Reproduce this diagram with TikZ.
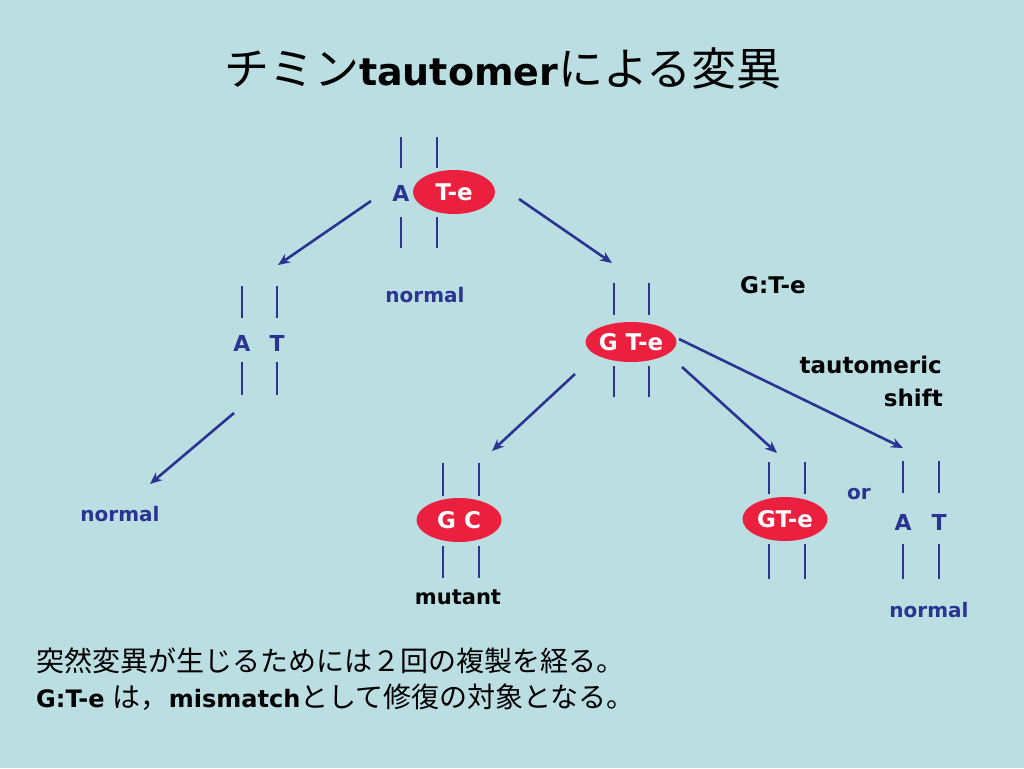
\documentclass[tikz,border=0pt]{standalone}
\usepackage{fontspec}
\setmainfont{DejaVu Sans}
\newfontfamily\jp{Noto Sans CJK JP}
\usetikzlibrary{arrows.meta,shapes.geometric}
\definecolor{bgcol}{RGB}{186,222,226}
\definecolor{navy}{RGB}{42,52,145}
\definecolor{pillred}{RGB}{234,32,62}
\begin{document}
\begin{tikzpicture}[x=1pt,y=-1pt,
  strand/.style={navy, line width=2.8pt},
  pill/.style={ellipse, fill=pillred, minimum width=85pt, minimum height=44pt, inner sep=0pt, text=white, font=\bfseries\fontsize{23}{25}\selectfont},
  basetxt/.style={text=navy, inner sep=0pt, font=\bfseries\fontsize{22}{24}\selectfont},
  bluelbl/.style={text=navy, inner sep=0pt, font=\bfseries\fontsize{20}{22}\selectfont},
  blacklbl/.style={text=black, inner sep=0pt, font=\bfseries\fontsize{23}{26}\selectfont},
  arr/.style={navy, line width=2.6pt, -{Stealth[length=12pt,width=10pt]}}]
\fill[bgcol] (0,0) rectangle (1024,768);
\useasboundingbox (0,0) rectangle (1024,768);

% title
\node[inner sep=0pt] (title) at (503,68) {\fontsize{45}{50}\selectfont{\jp チミン}{\bfseries\fontsize{38}{44}\selectfont tautomer}{\jp による変異}};

% node 1 : A T-e
\draw[strand] (401,137) -- (401,168) (437,137) -- (437,168);
\draw[strand] (401,217) -- (401,248) (437,217) -- (437,248);
\node[basetxt] (n1a) at (401,193) {A};
\node[pill, minimum width=82pt] (n1) at (454,192) {T-e};
\node[bluelbl] (norm1) at (425,295) {normal};

% node 2 : A T
\draw[strand] (242,286) -- (242,318) (277,286) -- (277,318);
\draw[strand] (242,362) -- (242,395) (277,362) -- (277,395);
\node[basetxt] (n2a) at (242,343) {A};
\node[basetxt] (n2t) at (277,343) {T};
\node[bluelbl] (norm2) at (120,514) {normal};

% node 3 : G T-e
\draw[strand] (614,283) -- (614,315) (649,283) -- (649,315);
\draw[strand] (614,366) -- (614,397) (649,366) -- (649,397);
\node[pill, minimum height=40pt] (n3) at (631,342) {G T-e};
\node[blacklbl] (gte) at (773,285) {G:T-e};
\node[blacklbl, anchor=east] (taut) at (942,365) {tautomeric};
\node[blacklbl, anchor=east] (shift) at (943,398) {shift};

% node 4 : G C
\draw[strand] (443,463) -- (443,496) (479,463) -- (479,496);
\draw[strand] (443,546) -- (443,578) (479,546) -- (479,578);
\node[pill] (n4) at (459,520) {G C};
\node[blacklbl, font=\bfseries\fontsize{21}{24}\selectfont] (mut) at (458,597) {mutant};

% node 5 : GT-e
\draw[strand] (769,462) -- (769,494) (805,462) -- (805,494);
\draw[strand] (769,544) -- (769,579) (805,544) -- (805,579);
\node[pill] (n5) at (785,519) {GT-e};
\node[bluelbl] (or) at (859,494) {or};

% node 6 : A T
\draw[strand] (903,461) -- (903,493) (939,461) -- (939,493);
\draw[strand] (903,544) -- (903,579) (939,544) -- (939,579);
\node[basetxt] (n6a) at (903,522) {A};
\node[basetxt] (n6t) at (939,522) {T};
\node[bluelbl] (norm3) at (929,610) {normal};

% arrow end points
\coordinate (a1s) at (371,201); \coordinate (a1e) at (278,265);
\coordinate (a2s) at (519,199); \coordinate (a2e) at (612,263);
\coordinate (a3s) at (234,413); \coordinate (a3e) at (150,484);
\coordinate (a4s) at (575,374); \coordinate (a4e) at (492,451);
\coordinate (a5s) at (682,367); \coordinate (a5e) at (777,453);
\coordinate (a6s) at (679,339); \coordinate (a6e) at (903,448);
\draw[arr] (a1s) -- (a1e);
\draw[arr] (a2s) -- (a2e);
\draw[arr] (a3s) -- (a3e);
\draw[arr] (a4s) -- (a4e);
\draw[arr] (a5s) -- (a5e);
\draw[arr] (a6s) -- (a6e);

% bottom text
\node[anchor=west, inner sep=0pt] (line1) at (36,661) {\jp\fontsize{28}{32}\selectfont 突然変異が生じるためには２回の複製を経る。};
\node[anchor=west, inner sep=0pt] (line2) at (36,697) {{\bfseries\fontsize{24}{28}\selectfont G:T-e }{\jp\fontsize{28}{32}\selectfont は，}{\bfseries\fontsize{24}{28}\selectfont mismatch}{\jp\fontsize{28}{32}\selectfont として修復の対象となる。}};
\end{tikzpicture}
\end{document}
